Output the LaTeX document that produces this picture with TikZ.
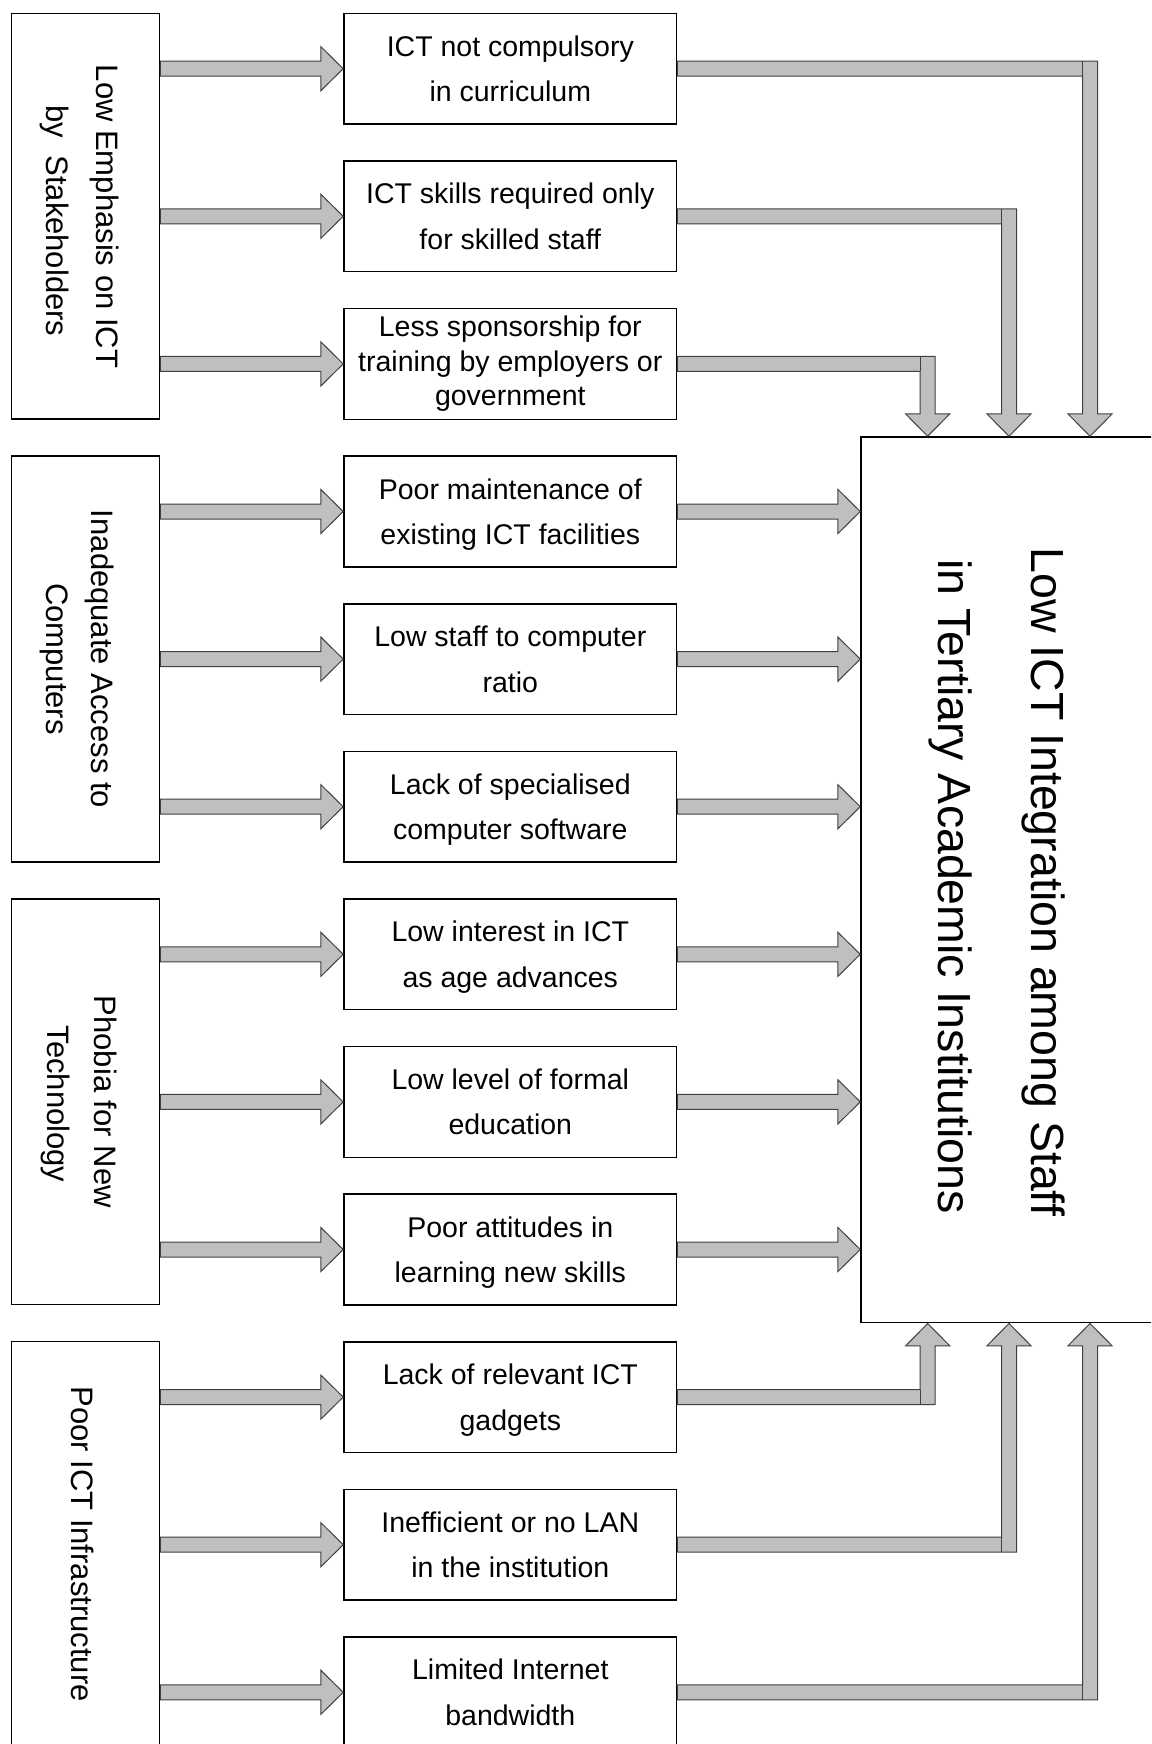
\documentclass[tikz,border=0pt]{standalone}
\usepackage{fontspec}
\setmainfont{Liberation Sans}
\usetikzlibrary{calc}
\newcommand\blkarrow[2]{%
  \draw[blk] let \p1=(#1), \p2=(#2) in
    (\x1,{\y2+7.5pt}) -- ({\x2-22.3pt},{\y2+7.5pt}) -- ({\x2-22.3pt},{\y2+22pt}) --
    (\x2,\y2) -- ({\x2-22.3pt},{\y2-22pt}) -- ({\x2-22.3pt},{\y2-7.5pt}) --
    (\x1,{\y2-7.5pt}) -- cycle;}
\newcommand\elbowdown[2]{%
  \draw[blk] let \p1=(#1.east), \p2=(B.north) in
    (\x1,{\y1+7.5pt}) -- ({#2pt+7.5pt},{\y1+7.5pt}) -- ({#2pt+7.5pt},{\y2+22.3pt}) --
    ({#2pt+22pt},{\y2+22.3pt}) -- (#2pt,\y2) -- ({#2pt-22pt},{\y2+22.3pt}) --
    ({#2pt-7.5pt},{\y2+22.3pt}) -- ({#2pt-7.5pt},{\y1-7.5pt}) -- (\x1,{\y1-7.5pt}) -- cycle;
  \draw[seam] let \p1=(#1.east) in ({#2pt-7.5pt},{\y1+7.5pt}) -- ({#2pt-7.5pt},{\y1-7.5pt});}
\newcommand\elbowup[2]{%
  \draw[blk] let \p1=(#1.east), \p2=(B.south) in
    (\x1,{\y1-7.5pt}) -- ({#2pt+7.5pt},{\y1-7.5pt}) -- ({#2pt+7.5pt},{\y2-22.3pt}) --
    ({#2pt+22pt},{\y2-22.3pt}) -- (#2pt,\y2) -- ({#2pt-22pt},{\y2-22.3pt}) --
    ({#2pt-7.5pt},{\y2-22.3pt}) -- ({#2pt-7.5pt},{\y1+7.5pt}) -- (\x1,{\y1+7.5pt}) -- cycle;
  \draw[seam] let \p1=(#1.east) in ({#2pt-7.5pt},{\y1+7.5pt}) -- ({#2pt-7.5pt},{\y1-7.5pt});}
\begin{document}
\begin{tikzpicture}[x=1pt,y=-1pt,
  box/.style={draw, line width=1.5pt, fill=white, inner sep=0pt},
  lbox/.style={box, minimum width=148pt, minimum height=405.7pt},
  mbox/.style={box, minimum width=332.7pt, minimum height=110.7pt},
  bigbox/.style={box, minimum width=300pt, minimum height=885.7pt},
  blk/.style={draw=black!75, fill=black!25, line width=1pt, line join=miter},
  seam/.style={draw=black!75, line width=1pt},
  ltxt/.style={rotate=-90, anchor=base, inner sep=0pt, font=\fontsize{31}{37}\selectfont},
  mtxt/.style={anchor=base, inner sep=0pt, font=\fontsize{28.5}{34}\selectfont},
  btxt/.style={rotate=-90, anchor=base, inner sep=0pt, font=\fontsize{46.5}{55}\selectfont}]
\useasboundingbox (0,0) rectangle (1151,1744);
\clip (0,0) rectangle (1151,1744);
\fill[white] (0,0) rectangle (1151,1744);

% left boxes
\node[lbox] (L1) at (85.7,216.2) {};
\node[lbox] (L2) at (85.7,659) {};
\node[lbox] (L3) at (85.7,1101.8) {};
\node[lbox] (L4) at (85.7,1544.5) {};
\node[ltxt] (L1a) at (96.7,216.5) {Low Emphasis on ICT};
\node[ltxt] (L1b) at (46.7,221) {by\ \ Stakeholders};
\node[ltxt] (L2a) at (91.7,659) {Inadequate Access to};
\node[ltxt] (L2b) at (46.7,659) {Computers};
\node[ltxt] (L3a) at (94,1101.8) {Phobia for New};
\node[ltxt] (L3b) at (47,1104) {Technology};
\node[ltxt] (L4a) at (71.7,1544) {Poor ICT Infrastructure};

% middle boxes
\foreach \k/\cy in {1/68.7,2/216.3,3/363.9,4/511.5,5/659.1,6/806.7,7/954.3,8/1101.9,9/1249.5,10/1397.1,11/1544.7,12/1692.3}
  \node[mbox] (M\k) at (510.3,\cy) {};

\node[mtxt] (M1a) at ($(M1.center)+(0,-12.4)$) {ICT not compulsory};
\node[mtxt] (M1b) at ($(M1.center)+(0,33)$) {in curriculum};
\node[mtxt] (M2a) at ($(M2.center)+(0,-12.4)$) {ICT skills required only};
\node[mtxt] (M2b) at ($(M2.center)+(0,33)$) {for skilled staff};
\node[mtxt] (M3a) at ($(M3.center)+(0,-27.1)$) {Less sponsorship for};
\node[mtxt] (M3b) at ($(M3.center)+(0,7.9)$) {training by employers or};
\node[mtxt] (M3c) at ($(M3.center)+(0,41.2)$) {government};
\node[mtxt] (M4a) at ($(M4.center)+(0,-12.4)$) {Poor maintenance of};
\node[mtxt] (M4b) at ($(M4.center)+(0,33)$) {existing ICT facilities};
\node[mtxt] (M5a) at ($(M5.center)+(0,-12.4)$) {Low staff to computer};
\node[mtxt] (M5b) at ($(M5.center)+(0,33)$) {ratio};
\node[mtxt] (M6a) at ($(M6.center)+(0,-12.4)$) {Lack of specialised};
\node[mtxt] (M6b) at ($(M6.center)+(0,33)$) {computer software};
\node[mtxt] (M7a) at ($(M7.center)+(0,-12.4)$) {Low interest in ICT};
\node[mtxt] (M7b) at ($(M7.center)+(0,33)$) {as age advances};
\node[mtxt] (M8a) at ($(M8.center)+(0,-12.4)$) {Low level of formal};
\node[mtxt] (M8b) at ($(M8.center)+(0,33)$) {education};
\node[mtxt] (M9a) at ($(M9.center)+(0,-12.4)$) {Poor attitudes in};
\node[mtxt] (M9b) at ($(M9.center)+(0,33)$) {learning new skills};
\node[mtxt] (M10a) at ($(M10.center)+(0,-12.4)$) {Lack of relevant ICT};
\node[mtxt] (M10b) at ($(M10.center)+(0,33)$) {gadgets};
\node[mtxt] (M11a) at ($(M11.center)+(0,-12.4)$) {Inefficient or no LAN};
\node[mtxt] (M11b) at ($(M11.center)+(0,33)$) {in the institution};
\node[mtxt] (M12a) at ($(M12.center)+(0,-12.4)$) {Limited Internet};
\node[mtxt] (M12b) at ($(M12.center)+(0,33)$) {bandwidth};

% big box
\node[bigbox] (B) at (1011,879.85) {};
\node[btxt] (Ba) at (1031.7,881.7) {Low ICT Integration among Staff};
\node[btxt] (Bb) at (938.3,886.5) {in Tertiary Academic Institutions};

% arrows left -> middle
\blkarrow{L1.east}{M1.west}
\blkarrow{L1.east}{M2.west}
\blkarrow{L1.east}{M3.west}
\blkarrow{L2.east}{M4.west}
\blkarrow{L2.east}{M5.west}
\blkarrow{L2.east}{M6.west}
\blkarrow{L3.east}{M7.west}
\blkarrow{L3.east}{M8.west}
\blkarrow{L3.east}{M9.west}
\blkarrow{L4.east}{M10.west}
\blkarrow{L4.east}{M11.west}
\blkarrow{L4.east}{M12.west}

% middle -> big box
\blkarrow{M4.east}{B.west |- M4.east}
\blkarrow{M5.east}{B.west |- M5.east}
\blkarrow{M6.east}{B.west |- M6.east}
\blkarrow{M7.east}{B.west |- M7.east}
\blkarrow{M8.east}{B.west |- M8.east}
\blkarrow{M9.east}{B.west |- M9.east}

\elbowdown{M1}{1090}
\elbowdown{M2}{1009}
\elbowdown{M3}{927.7}
\elbowup{M10}{927.7}
\elbowup{M11}{1009}
\elbowup{M12}{1090}
\end{tikzpicture}
\end{document}
